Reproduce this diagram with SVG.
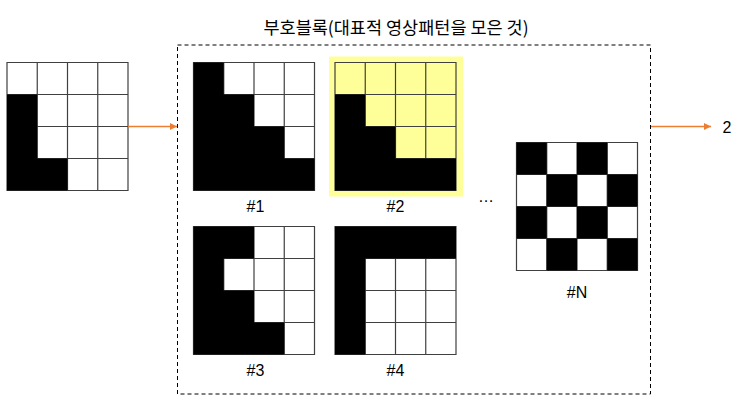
<svg xmlns="http://www.w3.org/2000/svg" xmlns:xlink="http://www.w3.org/1999/xlink" width="745" height="409" viewBox="0 0 745 409">
<style>
.t{font-family:"Noto Sans CJK KR","Noto Sans","Liberation Sans",sans-serif;fill:#000}
.lbl{font-family:"Liberation Sans","Noto Sans",sans-serif;font-size:16px;text-anchor:middle;fill:#000}
.b{fill:#000}
.w{fill:#fff}
.grid{fill:none;stroke:#404040;stroke-width:1.2}
.arrow{stroke:#ED7D31;stroke-width:1.5;fill:none}
</style>
<defs>
<path id="g" class="grid" d="M0,0H121V128H0Z M30.25,0V128 M60.5,0V128 M90.75,0V128 M0,32H121 M0,64H121 M0,96H121"/>
<marker id="ah" markerWidth="8" markerHeight="8" refX="7" refY="4" orient="auto" markerUnits="userSpaceOnUse">
<path d="M0,0.5L7,4L0,7.5Z" fill="#ED7D31"/>
</marker>
</defs>
<rect width="745" height="409" fill="#fff"/>

<g id="input" transform="translate(7,62.5)">
<rect class="w" width="121" height="128"/>
<use xlink:href="#g"/>
<path class="b" d="M0,32H30.25V96H60.5V128H0Z"/>
</g>

<g id="codebook">
<rect x="177.5" y="45" width="473" height="349" fill="none" stroke="#000" stroke-width="1" stroke-dasharray="4,3"/>
<text class="t" x="396" y="34" font-size="17.5" text-anchor="middle">부호블록(대표적 영상패턴을 모은 것)</text>
</g>

<g id="p1" transform="translate(193.5,62.5)">
<rect class="w" width="121" height="128"/>
<use xlink:href="#g"/>
<path class="b" d="M0,0H30.25V32H60.5V64H90.75V96H121V128H0Z"/>
<text class="lbl" x="62" y="149">#1</text>
</g>

<g id="p2" transform="translate(335,62.5)">
<rect x="-6" y="-6" width="134" height="140" fill="#FFFF99"/>
<use xlink:href="#g"/>
<path class="b" d="M0,32H30.25V64H60.5V96H121V128H0Z"/>
<text class="lbl" x="60.5" y="149">#2</text>
</g>

<g id="p3" transform="translate(193.5,226.5)">
<rect class="w" width="121" height="128"/>
<use xlink:href="#g"/>
<path class="b" d="M0,0H60.5V32H30.25V64H60.5V96H90.75V128H0Z"/>
<text class="lbl" x="62" y="149">#3</text>
</g>

<g id="p4" transform="translate(335,226.5)">
<rect class="w" width="121" height="128"/>
<use xlink:href="#g"/>
<path class="b" d="M0,0H121V32H30.25V128H0Z"/>
<text class="lbl" x="60.5" y="149">#4</text>
</g>

<g id="ellipsis">
<text class="lbl" x="486" y="202">…</text>
</g>

<g id="pN" transform="translate(516.5,142.5)">
<rect class="w" width="121" height="128"/>
<use xlink:href="#g"/>
<rect class="b" x="0" y="0" width="30.25" height="32"/>
<rect class="b" x="60.5" y="0" width="30.25" height="32"/>
<rect class="b" x="30.25" y="32" width="30.25" height="32"/>
<rect class="b" x="90.75" y="32" width="30.25" height="32"/>
<rect class="b" x="0" y="64" width="30.25" height="32"/>
<rect class="b" x="60.5" y="64" width="30.25" height="32"/>
<rect class="b" x="30.25" y="96" width="30.25" height="32"/>
<rect class="b" x="90.75" y="96" width="30.25" height="32"/>
<text class="lbl" x="60.5" y="155">#N</text>
</g>

<g id="output">
<text class="lbl" x="727" y="133">2</text>
</g>

<g id="connectors">
<line class="arrow" x1="128" y1="126.5" x2="177" y2="126.5" marker-end="url(#ah)"/>
<line class="arrow" x1="651" y1="126.5" x2="711" y2="126.5" marker-end="url(#ah)"/>
</g>
</svg>
